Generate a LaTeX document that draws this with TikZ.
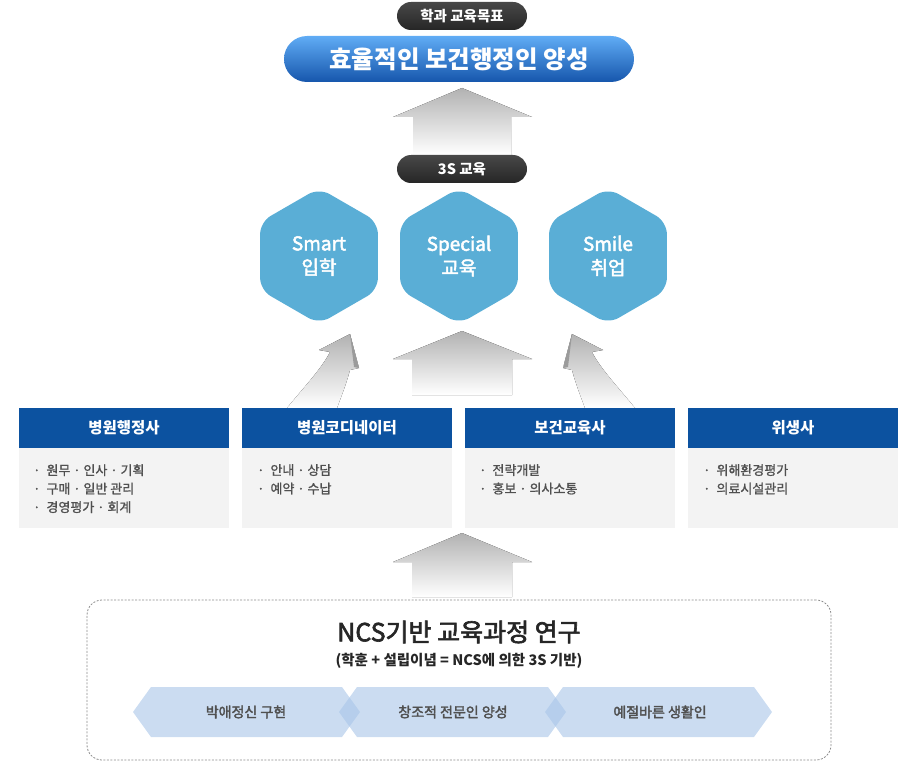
\documentclass[tikz,border=0pt]{standalone}
\usepackage{fontspec}
\setmainfont{Noto Sans CJK KR}
\newfontfamily\krsemi[FakeBold=2.5]{Noto Sans CJK KR}
\newfontfamily\krlight[FakeBold=1.2]{Noto Sans CJK KR}
\usetikzlibrary{shapes.geometric}
\definecolor{hexblue}{RGB}{90,174,214}
\definecolor{hdrblue}{RGB}{12,82,160}
\definecolor{bodygray}{RGB}{243,243,243}
\definecolor{txtgray}{RGB}{80,80,80}
\definecolor{chevbase}{RGB}{168,197,232}
\definecolor{pilltop}{RGB}{96,172,245}
\definecolor{pillbot}{RGB}{22,86,172}
\definecolor{darktop}{RGB}{72,72,72}
\definecolor{darkbot}{RGB}{38,38,38}
\definecolor{arrowgray}{RGB}{178,178,178}
\definecolor{bevelgray}{RGB}{155,155,155}
\definecolor{framegray}{RGB}{140,140,140}
\tikzset{
  darkpill/.style={rounded corners=14pt, minimum width=130pt, minimum height=28pt,
    top color=darktop, bottom color=darkbot, draw=none, text=white, inner sep=0pt,
    font=\fontsize{14.5}{16}\selectfont\bfseries},
  bluepill/.style={rounded corners=23pt, minimum width=350pt, minimum height=46pt,
    top color=pilltop, bottom color=pillbot, draw=none, text=white, inner sep=0pt,
    font=\fontsize{24.5}{28}\selectfont\bfseries},
  hexnode/.style={regular polygon, regular polygon sides=6, regular polygon rotate=30,
    minimum size=136pt, inner sep=0pt, fill=hexblue, rounded corners=12pt, text=white,
    align=center, font=\fontsize{19}{24}\krsemi},
  hdr/.style={minimum width=210pt, minimum height=40pt, fill=hdrblue, text=white,
    inner sep=0pt, font=\fontsize{15.5}{18}\selectfont\bfseries},
  bodybox/.style={minimum width=210pt, minimum height=80pt, fill=bodygray, inner sep=0pt},
  bodytxt/.style={anchor=north west, align=left, inner sep=0pt, text=txtgray,
    font=\fontsize{13}{18.5}\krlight},
  uparrow/.style={top color=arrowgray, bottom color=white, draw=none},
  curvearrow/.style={top color=arrowgray, bottom color=white, draw=none},
  bevel/.style={fill=bevelgray, draw=none},
  ncsframe/.style={draw=framegray, line width=0.8pt, dash pattern=on 2pt off 1.5pt, rounded corners=15pt,
    minimum width=744pt, minimum height=160pt, inner sep=0pt},
  chevshape/.style={fill=chevbase, fill opacity=0.6, draw=none},
  chevtxt/.style={text=txtgray, font=\fontsize{14}{16}\krsemi},
}
\begin{document}
\begin{tikzpicture}[x=1pt,y=-1pt]
\useasboundingbox (0,0) rectangle (920,762);

% top section
\node[darkpill] (goal) at (462,16) {학과 교육목표};
\node[bluepill] (main) at (459,59) {효율적인 보건행정인 양성};
\fill[uparrow] (413,155) -- (413,117) -- (393,117) -- (462,88) -- (532,117) -- (511,117) -- (511,155) -- cycle;
\node[darkpill] (threeS) at (462,169) {3S 교육};

% hexagons
\node[hexnode] (smart) at (319,256) {Smart\\입학};
\node[hexnode] (special) at (459,256) {Special\\교육};
\node[hexnode] (smile) at (608,256) {Smile\\취업};

% arrows from boxes to hexagons
\fill[uparrow] (412,395) -- (412,359) -- (393,359) -- (462,331) -- (532,359) -- (512,359) -- (512,395) -- cycle;
\fill[curvearrow] (287,408) .. controls (305,386) and (322,368) .. (330,352) -- (319,350) -- (350,334) -- (359,368) -- (350,370) .. controls (346,385) and (341,397) .. (337,408) -- cycle;
\fill[bevel] (350,334) -- (359,368) -- (354,367) -- cycle;
\fill[curvearrow] (635,408) .. controls (617,386) and (600,368) .. (592,352) -- (603,350) -- (572,334) -- (563,368) -- (572,370) .. controls (576,385) and (581,397) .. (585,408) -- cycle;
\fill[bevel] (572,334) -- (563,368) -- (568,367) -- cycle;

% boxes
\node[hdr] (h1) at (124,428) {병원행정사};
\node[hdr] (h2) at (347,428) {병원코디네이터};
\node[hdr] (h3) at (570,428) {보건교육사};
\node[hdr] (h4) at (793,428) {위생사};
\node[bodybox] (b1) at (124,488) {};
\node[bodybox] (b2) at (347,488) {};
\node[bodybox] (b3) at (570,488) {};
\node[bodybox] (b4) at (793,488) {};
\node[bodytxt] (t1) at (33,464) {·\hspace{6pt}원무 · 인사 · 기획\\·\hspace{6pt}구매 · 일반 관리\\·\hspace{6pt}경영평가 · 회계};
\node[bodytxt] (t2) at (257,464) {·\hspace{6pt}안내 · 상담\\·\hspace{6pt}예약 · 수납};
\node[bodytxt] (t3) at (479,464) {·\hspace{6pt}전략개발\\·\hspace{6pt}홍보 · 의사소통};
\node[bodytxt] (t4) at (703,464) {·\hspace{6pt}위해환경평가\\·\hspace{6pt}의료시설관리};

% bottom arrow
\fill[uparrow] (412,597) -- (412,562) -- (393,562) -- (462,533) -- (532,562) -- (512,562) -- (512,597) -- cycle;

% NCS frame
\node[ncsframe] (ncs) at (459,680) {};
\node[text=black!85, font=\fontsize{25}{28}\krsemi] (ncstitle) at (459,632) {NCS기반 교육과정 연구};
\node[text=black!85, font=\fontsize{14.5}{16}\selectfont\bfseries] (ncssub) at (459,661) {(학훈 + 설립이념 = NCS에 의한 3S 기반)};

% chevrons
\fill[chevshape] (133,712) -- (151,687) -- (342,687) -- (360,712) -- (342,737) -- (151,737) -- cycle;
\fill[chevshape] (339,712) -- (357,687) -- (548,687) -- (566,712) -- (548,737) -- (357,737) -- cycle;
\fill[chevshape] (545,712) -- (563,687) -- (754,687) -- (772,712) -- (754,737) -- (563,737) -- cycle;
\node[chevtxt] (c1) at (246,712) {박애정신 구현};
\node[chevtxt] (c2) at (453,712) {창조적 전문인 양성};
\node[chevtxt] (c3) at (660,712) {예절바른 생활인};
\end{tikzpicture}
\end{document}
